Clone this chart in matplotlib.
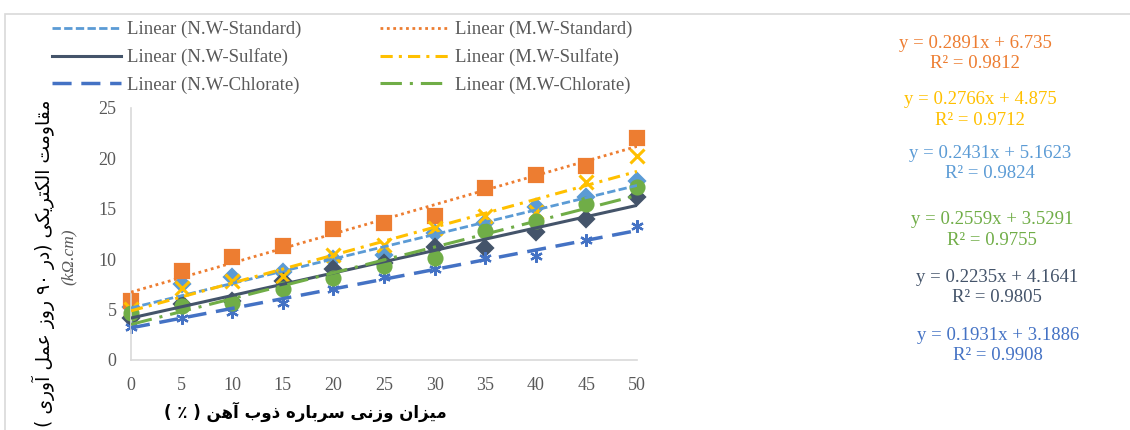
import re
import matplotlib
matplotlib.use("Agg")
import matplotlib.pyplot as plt
from matplotlib.patches import Rectangle

# ---- data ----
x_vals = [0, 5, 10, 15, 20, 25, 30, 35, 40, 45, 50]
nw_standard = [5.3, 7.55, 8.25, 8.75, 10.0, 10.4, 12.55, 13.55, 15.2, 16.2, 17.75]
mw_standard = [5.85, 8.85, 10.25, 11.35, 12.95, 13.55, 14.25, 17.05, 18.35, 19.25, 22.0]
nw_sulfate = [4.2, 5.6, 5.9, 7.85, 9.05, 9.6, 11.25, 11.15, 12.7, 14.0, 16.2]
mw_sulfate = [5.1, 7.15, 7.85, 8.3, 10.4, 11.4, 13.05, 14.25, 14.65, 17.7, 20.25]
nw_chlorate = [3.3, 4.15, 4.8, 5.7, 7.0, 8.25, 9.0, 10.1, 10.35, 11.9, 13.25]
mw_chlorate = [4.65, 5.35, 5.65, 7.05, 8.1, 9.3, 10.15, 12.8, 13.75, 15.5, 17.15]

series_names = ["N.W-Standard", "M.W-Standard", "N.W-Sulfate",
                "M.W-Sulfate", "N.W-Chlorate", "M.W-Chlorate"]
series_values = [nw_standard, mw_standard, nw_sulfate,
                 mw_sulfate, nw_chlorate, mw_chlorate]
slopes = [0.2431, 0.2891, 0.2235, 0.2766, 0.1931, 0.2559]
intercepts = [5.1623, 6.735, 4.1641, 4.875, 3.1886, 3.5291]
r_squared = [0.9824, 0.9812, 0.9805, 0.9712, 0.9908, 0.9755]

y_ticks = [0, 5, 10, 15, 20, 25]
x_label = "میزان وزنی سرباره ذوب آهن ( ٪ )"
y_label = "مقاومت الکتریکی (در ۹۰ روز عمل آوری )"
y_unit = "(kΩ.cm)"

# ---- styles ----
colors = ["#5B9BD5", "#ED7D31", "#44546A", "#FFC000", "#4472C4", "#70AD47"]
markers = ["D", "s", "D", "x", (6, 2, 0), "o"]
marker_sizes = [8, 9.5, 8, 10, 9, 10]
line_widths = [2.0, 2.0, 2.2, 2.2, 2.5, 2.2]
dash_styles = [(3, 1.2), (1, 1.3), None, (4, 2, 1, 2), (5.5, 2.8), (7, 2.6, 1, 2.6)]

# right-hand equation labels: series index, x centre, y (fig pixels)
eq_layout = [(1, 975, 43), (3, 980, 100), (0, 990, 153),
             (5, 992, 220), (2, 997, 277), (4, 998, 335)]

# minimal Arabic/Persian shaping for matplotlib (no bidi support)
FORMS = {
    "\u0622": ("\uFE81", "\uFE82", None, None),
    "\u0627": ("\uFE8D", "\uFE8E", None, None),
    "\u0628": ("\uFE8F", "\uFE90", "\uFE91", "\uFE92"),
    "\u062A": ("\uFE95", "\uFE96", "\uFE97", "\uFE98"),
    "\u062F": ("\uFEA9", "\uFEAA", None, None),
    "\u0630": ("\uFEAB", "\uFEAC", None, None),
    "\u0631": ("\uFEAD", "\uFEAE", None, None),
    "\u0632": ("\uFEAF", "\uFEB0", None, None),
    "\u0633": ("\uFEB1", "\uFEB2", "\uFEB3", "\uFEB4"),
    "\u0639": ("\uFEC9", "\uFECA", "\uFECB", "\uFECC"),
    "\u0642": ("\uFED5", "\uFED6", "\uFED7", "\uFED8"),
    "\u0644": ("\uFEDD", "\uFEDE", "\uFEDF", "\uFEE0"),
    "\u0645": ("\uFEE1", "\uFEE2", "\uFEE3", "\uFEE4"),
    "\u0646": ("\uFEE5", "\uFEE6", "\uFEE7", "\uFEE8"),
    "\u0647": ("\uFEE9", "\uFEEA", "\uFEEB", "\uFEEC"),
    "\u0648": ("\uFEED", "\uFEEE", None, None),
    "\u06A9": ("\uFB8E", "\uFB8F", "\uFB90", "\uFB91"),
    "\u06CC": ("\uFBFC", "\uFBFD", "\uFBFE", "\uFBFF"),
}


def rtl(text):
    shaped = []
    for i, ch in enumerate(text):
        if ch not in FORMS:
            shaped.append(ch)
            continue
        iso, fin, ini, med = FORMS[ch]
        prev = text[i - 1] if i > 0 else ""
        nxt = text[i + 1] if i + 1 < len(text) else ""
        jp = prev in FORMS and FORMS[prev][2] is not None
        jn = ini is not None and nxt in FORMS
        if jp and jn:
            shaped.append(med)
        elif jp:
            shaped.append(fin)
        elif jn:
            shaped.append(ini)
        else:
            shaped.append(iso)
    tokens = re.findall(r"[0-9\u06F0-\u06F9]+|.", "".join(shaped))
    mirror = {"(": ")", ")": "("}
    return "".join(mirror.get(t, t) for t in reversed(tokens))


W, H = 1130, 430
fig = plt.figure(figsize=(W / 100, H / 100), dpi=100)
fig.patch.set_facecolor("white")
fig.patches.append(Rectangle((5 / W, -0.1), 1.2, 1.1 - 14 / H, transform=fig.transFigure,
                             fill=False, edgecolor="#D9D9D9", linewidth=1.2))

ax = fig.add_axes([131 / W, 1 - 360 / H, (637 - 131) / W, (360 - 108) / H])
serif = "Liberation Serif"

handles = []
for i, (name, vals) in enumerate(zip(series_names, series_values)):
    ax.plot(x_vals, vals, linestyle="none", marker=markers[i], color=colors[i],
            markersize=marker_sizes[i], markeredgewidth=2.2 if markers[i] == "x" else 1.6,
            zorder=2 + i * 0.01, clip_on=False)
for i, name in enumerate(series_names):
    xs = [x_vals[0], x_vals[-1]]
    ys = [slopes[i] * x + intercepts[i] for x in xs]
    ln, = ax.plot(xs, ys, color=colors[i], linewidth=line_widths[i], zorder=3,
                  label="Linear (" + name + ")")
    if dash_styles[i] is not None:
        ln.set_dashes(dash_styles[i])
    handles.append(ln)

ax.set_xlim(0, 50)
ax.set_ylim(0, 25)
ax.set_xticks(x_vals)
ax.set_yticks(y_ticks)
for s in ["top", "right"]:
    ax.spines[s].set_visible(False)
for s in ["left", "bottom"]:
    ax.spines[s].set_color("#D9D9D9")
    ax.spines[s].set_linewidth(1.2)
ax.tick_params(length=0, labelsize=13, labelcolor="#595959")
ax.tick_params(axis="x", pad=12)
ax.tick_params(axis="y", pad=10.5)
for lab in ax.get_xticklabels() + ax.get_yticklabels():
    lab.set_fontfamily(serif)

order = [0, 2, 4, 1, 3, 5]
fig.legend([handles[k] for k in order], [handles[k].get_label() for k in order],
           ncol=2, loc="upper left", bbox_to_anchor=(35 / W, 1 - 4 / H),
           frameon=False, prop={"family": serif, "size": 13.5},
           handlelength=3.7, handletextpad=0.3, columnspacing=4.2, labelspacing=0.55,
           labelcolor="#595959")

for idx, xc, yc in eq_layout:
    fig.text(xc / W, 1 - yc / H, f"y = {slopes[idx]}x + {intercepts[idx]}",
             color=colors[idx], family=serif, fontsize=13.5, ha="center", va="center")
    fig.text(xc / W, 1 - (yc + 20.5) / H, f"R² = {r_squared[idx]}",
             color=colors[idx], family=serif, fontsize=13.5, ha="center", va="center")

fig.text(43 / W, 1 - 263 / H, rtl(y_label), rotation=90, ha="center", va="center",
         family="DejaVu Sans", fontsize=13.5, color="black")
fig.text(69 / W, 1 - 257 / H, y_unit, rotation=90, ha="center", va="center",
         family=serif, style="italic", fontsize=12.5, color="#595959")
fig.text(305 / W, 1 - 412 / H, rtl(x_label), ha="center", va="center",
         family="DejaVu Sans", fontweight="bold", fontsize=12, color="black")

fig.savefig("out.png", dpi=100)
